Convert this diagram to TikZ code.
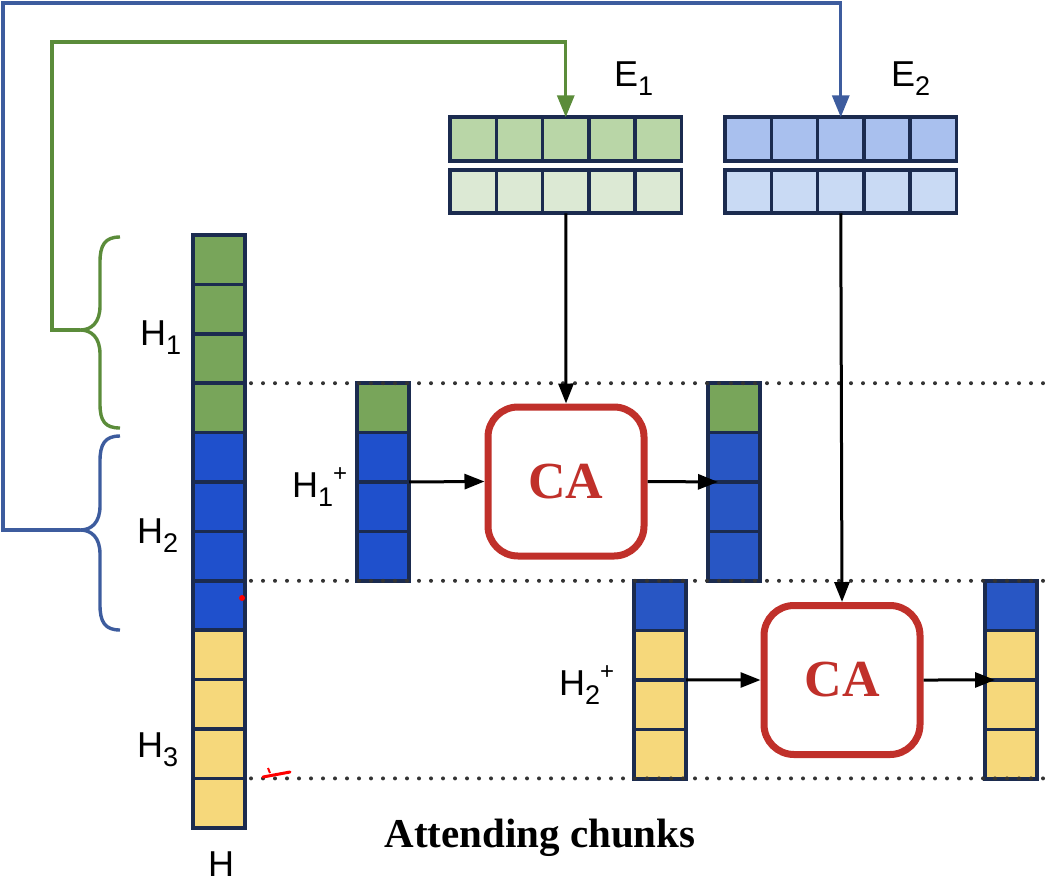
\documentclass[tikz,border=0pt]{standalone}
\usepackage{fontspec}
\setmainfont{Liberation Serif}
\setsansfont{Liberation Sans}
\usetikzlibrary{arrows.meta}
\definecolor{cgreen}{HTML}{78A55A}
\definecolor{cblue}{HTML}{1F50CC}
\definecolor{cblueb}{HTML}{2856C4}
\definecolor{cyel}{HTML}{F6D87B}
\definecolor{cedge}{HTML}{1B2B4F}
\definecolor{eg1}{HTML}{B9D6A7}
\definecolor{eg2}{HTML}{DCE9D4}
\definecolor{eb1}{HTML}{A9C0EE}
\definecolor{eb2}{HTML}{C9DAF4}
\definecolor{lgreen}{HTML}{5B8C3A}
\definecolor{lblue}{HTML}{3D5C9E}
\definecolor{cared}{HTML}{C0302A}
\newcommand\lsub[1]{\raisebox{-9pt}{\fontsize{27}{27}\selectfont #1}}
\newcommand\lsup[1]{\raisebox{16pt}{\fontsize{24}{24}\selectfont #1}}
\begin{document}
\begin{tikzpicture}[x=1pt,y=-1pt,
 cell/.style={draw=cedge,line width=3.6pt,minimum width=52pt,minimum height=49.4pt,inner sep=0pt,outer sep=0pt},
 ecell/.style={draw=cedge,line width=3.6pt,minimum width=46.3pt,minimum height=43.5pt,inner sep=0pt,outer sep=0pt},
 cabox/.style={draw=cared,line width=7pt,rounded corners=30pt,minimum width=156pt,minimum height=149pt,fill=white,inner sep=0pt,font=\fontsize{52}{52}\selectfont\bfseries,text=cared},
 lab/.style={font=\sffamily\fontsize{36}{36}\selectfont,anchor=base west,inner sep=0pt},
 arr/.style={draw=black,line width=3pt,-{Triangle[length=20pt,width=15pt]}},
 garr/.style={draw=lgreen,line width=3.4pt,-{Triangle[length=22pt,width=17pt]}},
 barr/.style={draw=lblue,line width=3.4pt,-{Triangle[length=22pt,width=17pt]}},
 dotl/.style={draw=black!80,line width=4pt,line cap=round,dash pattern=on 0pt off 12pt},
 bracel/.style={line width=3.4pt}
]
\useasboundingbox (0,0) rectangle (1054,886);

% H column
\foreach \c [count=\i] in {cgreen,cgreen,cgreen,cgreen,cblue,cblue,cblue,cblue,cyel,cyel,cyel,cyel}
  \node[cell,fill=\c] (h-\i) at (219,{235+49.4*(\i-0.5)}) {};

% chunk columns
\foreach \c [count=\i] in {cgreen,cblue,cblue,cblue}
  \node[cell,fill=\c] (p1-\i) at (383,{383+49.5*(\i-0.5)}) {};
\foreach \c [count=\i] in {cgreen,cblueb,cblueb,cblueb}
  \node[cell,fill=\c] (o1-\i) at (734,{383+49.5*(\i-0.5)}) {};
\foreach \c [count=\i] in {cblueb,cyel,cyel,cyel}
  \node[cell,fill=\c] (p2-\i) at (660,{581+49.5*(\i-0.5)}) {};
\foreach \c [count=\i] in {cblueb,cyel,cyel,cyel}
  \node[cell,fill=\c] (o2-\i) at (1011,{581+49.5*(\i-0.5)}) {};

% E blocks
\foreach \i in {1,...,5} {
  \node[ecell,fill=eg1] (e1a-\i) at ({450+46.3*(\i-0.5)},139) {};
  \node[ecell,fill=eg2] (e1b-\i) at ({450+46.3*(\i-0.5)},191.5) {};
  \node[ecell,fill=eb1] (e2a-\i) at ({725+46.3*(\i-0.5)},139) {};
  \node[ecell,fill=eb2] (e2b-\i) at ({725+46.3*(\i-0.5)},191.5) {};
}

% dotted lines
\coordinate (d1) at (1054,383.2);
\coordinate (d2) at (1054,580.8);
\coordinate (d3) at (1054,778.4);
\draw[dotl] ([xshift=6pt]h-3.south east) -- (d1);
\draw[dotl] ([xshift=6pt]h-7.south east) -- (d2);
\draw[dotl] ([xshift=6pt]h-11.south east) -- (d3);

% CA boxes
\node[cabox] (ca1) at (566,481.5) {CA};
\node[cabox] (ca2) at (842,680) {CA};

% arrows
\draw[arr] (p1-2.south east) -- (ca1.west);
\draw[arr] (ca1.east) -- ([xshift=10pt]o1-2.south west);
\draw[arr] (p2-2.south east) -- (ca2.west);
\draw[arr] (ca2.east) -- ([xshift=10pt]o2-2.south west);
\draw[arr] (e1b-3.south) -- (ca1.north);
\draw[arr] (e2b-3.south) -- (ca2.north);

% braces
\coordinate (gtip) at (80,330);
\coordinate (btip) at (80,530);
\draw[bracel,lgreen] (120,237) .. controls (105,237) and (100,245) .. (100,262) -- (100,306)
  .. controls (100,322) and (92,330) .. (gtip) .. controls (92,330) and (100,338) .. (100,354)
  -- (100,404) .. controls (100,421) and (105,428) .. (120,428);
\draw[bracel,lblue] (120,436) .. controls (105,436) and (100,444) .. (100,461) -- (100,506)
  .. controls (100,522) and (92,530) .. (btip) .. controls (92,530) and (100,538) .. (100,554)
  -- (100,605) .. controls (100,622) and (105,630) .. (120,630);

% long connectors
\coordinate (gcorner) at (52,42);
\coordinate (bcorner) at (3,3);
\draw[garr] (gtip) -| (gcorner) -| (e1a-3.north);
\draw[barr] (btip) -| (bcorner) -| (e2a-3.north);

% labels
\node[lab] (lh1) at (140,345) {H\lsub{1}};
\node[lab] (lh2) at (137,543) {H\lsub{2}};
\node[lab] (lh3) at (137,757) {H\lsub{3}};
\node[lab] (lh) at (208,876) {H};
\node[lab] (le1) at (614,86) {E\lsub{1}};
\node[lab] (le2) at (891,86) {E\lsub{2}};
\node[lab] (lp1) at (292,497) {H\lsub{1}\lsup{+}};
\node[lab] (lp2) at (559,695) {H\lsub{2}\lsup{+}};
\node[font=\fontsize{41}{41}\selectfont\bfseries,anchor=base,inner sep=0pt] (att) at (540,847) {Attending chunks};

% red marks
\fill[red] (242,598) circle (3pt);
\draw[red,line width=3pt,line cap=round] (263,777) -- (290,772);
\draw[red,line width=2pt] (268,768) -- (270,773);
\end{tikzpicture}
\end{document}
